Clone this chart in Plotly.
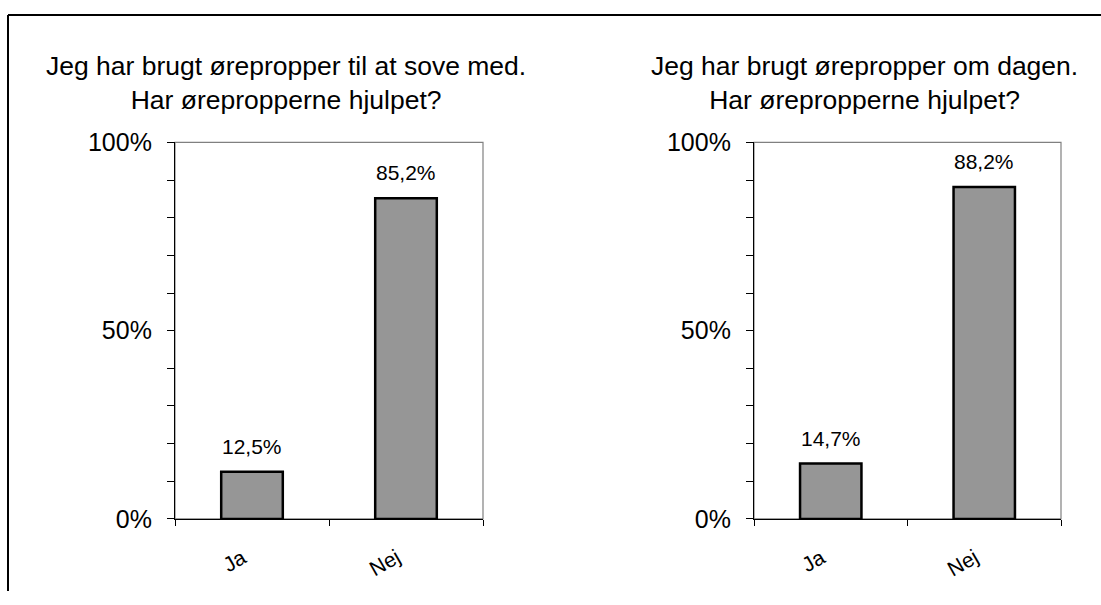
import plotly.graph_objects as go

categories = ["Ja", "Nej"]
sleep_values = [0.125, 0.852]
day_values = [0.147, 0.882]
sleep_labels = ["12,5%", "85,2%"]
day_labels = ["14,7%", "88,2%"]
titles = [
    "Jeg har brugt ørepropper til at sove med.<br>Har ørepropperne hjulpet?",
    "Jeg har brugt ørepropper om dagen.<br>Har ørepropperne hjulpet?",
]
ytick_vals = [0, 0.1, 0.2, 0.3, 0.4, 0.5, 0.6, 0.7, 0.8, 0.9, 1.0]
ytick_text = ["0%", "", "", "", "", "50%", "", "", "", "", "100%"]

FONT = "Arial, Liberation Sans, sans-serif"
W, H = 1101, 605

fig = go.Figure()

panels = [
    (sleep_values, sleep_labels, "x", "y", [175 / W, 483 / W], 285.5),
    (day_values, day_labels, "x2", "y2", [754 / W, 1061 / W], 864.5),
]
ydom = [(605 - 529.4) / H, (605 - 134.7) / H]

for i, (vals, labs, xa, ya, xdom, tcx) in enumerate(panels):
    fig.add_trace(go.Bar(
        x=categories, y=vals, xaxis=xa, yaxis=ya,
        width=0.4,
        marker=dict(color="#969696", line=dict(color="black", width=2.5)),
        hoverinfo="skip", showlegend=False,
    ))
    for c, v, t in zip(categories, vals, labs):
        fig.add_annotation(x=c, y=v, xref=xa, yref=ya, text=t, showarrow=False,
                           yanchor="bottom", yshift=12,
                           font=dict(family=FONT, size=21, color="black"))
        # rotated category label
        fig.add_annotation(x=c, y=0, xref=xa, yref=ya, text=c, showarrow=False,
                           textangle=-30, xanchor="right", yanchor="top",
                           xshift=1, yshift=-23,
                           font=dict(family=FONT, size=21, color="black"))
    suffix = "" if i == 0 else "2"
    fig.update_layout(**{
        "xaxis" + suffix: dict(domain=xdom, anchor=ya, showline=True, linecolor="black",
                               linewidth=1.2, ticks="outside", ticklen=6, tickcolor="black",
                               tickson="boundaries", showgrid=False, showticklabels=False,
                               fixedrange=True),
        "yaxis" + suffix: dict(domain=ydom, anchor=xa, range=[0, 1], showline=True,
                               linecolor="black", linewidth=1.2, ticks="outside", ticklen=7,
                               tickcolor="black", tickvals=ytick_vals, ticktext=ytick_text,
                               showgrid=False, zeroline=False, ticklabelstandoff=10,
                               tickfont=dict(family=FONT, size=25, color="black"),
                               fixedrange=True),
    })
    # gray frame (top and right of plot area)
    fig.add_shape(type="rect", xref=xa + " domain", yref=ya + " domain",
                  x0=0, x1=1, y0=0, y1=1, line=dict(color="#808080", width=1.2),
                  layer="below")
    # panel title
    fig.add_annotation(x=tcx / W, y=1 - 72 / H, xref="paper", yref="paper", text=titles[i],
                       showarrow=False, xanchor="center", yanchor="middle",
                       font=dict(family=FONT, size=26.5, color="black"))

# outer chart border (left and top edges visible)
fig.add_shape(type="line", xref="paper", yref="paper", x0=8 / W, x1=8 / W,
              y0=0, y1=1 - 1 / H, line=dict(color="black", width=2))
fig.add_shape(type="line", xref="paper", yref="paper", x0=8 / W, x1=1,
              y0=1 - 1 / H, y1=1 - 1 / H, line=dict(color="black", width=2))

fig.update_layout(
    width=W, height=H,
    margin=dict(l=0, r=0, t=0, b=0),
    paper_bgcolor="white", plot_bgcolor="white",
    bargap=0.6,
    font=dict(family=FONT, color="black"),
)

post = """
document.body.style.margin='0';
document.body.style.overflow='hidden';
"""
fig.write_html("out.html", config={"displayModeBar": False}, post_script=post)
